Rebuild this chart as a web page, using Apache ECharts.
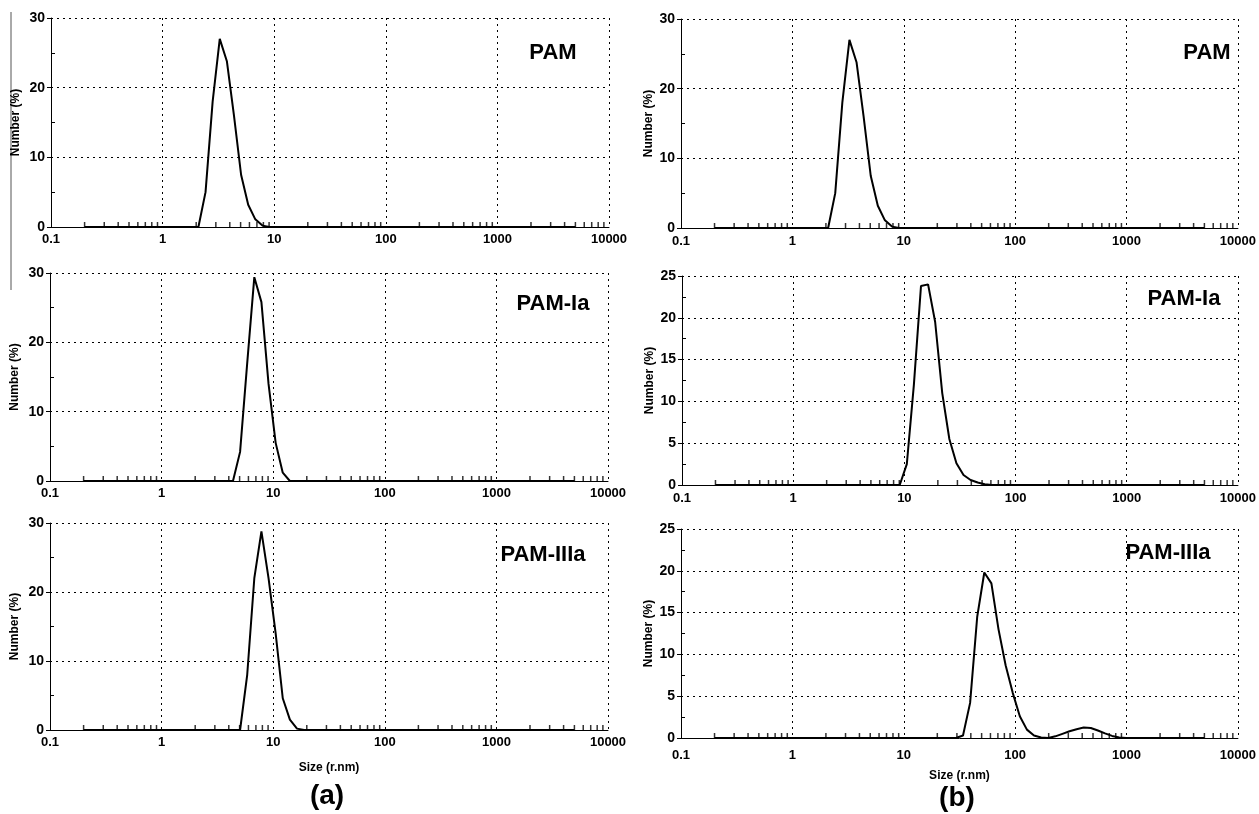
<!DOCTYPE html>
<html><head><meta charset="utf-8">
<script src="https://cdn.jsdelivr.net/npm/echarts@6/dist/echarts.min.js"></script>
<style>html,body{margin:0;padding:0;background:#fff}#c{width:1259px;height:814px}</style>
</head><body><div id="c"></div><script>
// ---- data ----
const sizeRange = [0.2, 5000];
const pamSize = [2.094, 2.425, 2.808, 3.252, 3.766, 4.361, 5.050, 5.849, 6.773, 7.843, 9.083];
const pamNumber = [0, 5, 18, 27, 23.8, 16, 7.5, 3.2, 1.1, 0.2, 0];
const pamIaSizeA = [4.361, 5.050, 5.849, 6.773, 7.843, 9.083, 10.52, 12.18, 14.11];
const pamIaNumberA = [0, 4.2, 17, 29.4, 25.8, 14, 5.5, 1.2, 0];
const pamIIIaSizeA = [5.050, 5.849, 6.773, 7.843, 9.083, 10.52, 12.18, 14.11, 16.34, 18.92];
const pamIIIaNumberA = [0, 8, 22, 28.8, 22, 14, 4.6, 1.5, 0.2, 0];
const pamIaSizeB = [9.083, 10.52, 12.18, 14.11, 16.34, 18.92, 21.91, 25.38, 29.39, 34.03, 39.41, 45.64, 52.85, 61.2];
const pamIaNumberB = [0, 2.5, 12, 23.8, 24, 19.5, 11, 5.5, 2.6, 1.2, 0.6, 0.3, 0.1, 0];
const pamIIIaSizeB = [29.39, 34.03, 39.41, 45.64, 52.85, 61.2, 70.9, 82.1, 95.1, 110.1, 127.5, 147.6, 171.0, 198.1, 229.4, 265.6, 307.6, 356.2, 412.5, 477.7, 553.2, 640.7, 741.9, 859.2, 995];
const pamIIIaNumberB = [0, 0.3, 4.2, 14.5, 19.8, 18.5, 13, 8.7, 5.4, 2.6, 1.0, 0.3, 0.05, 0, 0.2, 0.5, 0.8, 1.05, 1.25, 1.2, 0.9, 0.55, 0.25, 0.05, 0];
const xTickLabels = ['0.1', '1', '10', '100', '1000', '10000'];
const minorMultipliers = [2, 3, 4, 5, 6, 7, 8, 9];
const decades = [0.1, 1, 10, 100, 1000];
const panelLabels = ['PAM', 'PAM-Ia', 'PAM-IIIa', 'PAM', 'PAM-Ia', 'PAM-IIIa'];
const yMax = [30, 30, 30, 30, 25, 25];
const yInterval = [10, 10, 10, 10, 5, 5];
const yTitle = 'Number (%)';
const xTitle = 'Size (r.nm)';
const panelTags = ['(a)', '(b)'];

// ---- layout ----
const FONT = '"Liberation Sans", Arial, sans-serif';
const grids = [
  {left: 51, top: 18, width: 558, height: 209},
  {left: 50, top: 273, width: 558, height: 208},
  {left: 50, top: 523, width: 558, height: 207},
  {left: 681, top: 19, width: 558, height: 209},
  {left: 682, top: 276, width: 557, height: 209},
  {left: 681, top: 529, width: 558, height: 209}
];
const labelPos = [[553, 53], [553, 304], [543, 555], [1207, 53], [1184, 299], [1168, 553]];
const xLabelMargin = [6, 6, 6, 7, 7, 11];
const yNameGap = [29, 29, 29, 26, 26, 26];

function pairs(sizes, nums) {
  const out = [[sizeRange[0], 0]];
  sizes.forEach((s, k) => out.push([s, nums[k]]));
  out.push([sizeRange[1], 0]);
  return out;
}
const curves = [
  pairs(pamSize, pamNumber),
  pairs(pamIaSizeA, pamIaNumberA),
  pairs(pamIIIaSizeA, pamIIIaNumberA),
  pairs(pamSize, pamNumber),
  pairs(pamIaSizeB, pamIaNumberB),
  pairs(pamIIIaSizeB, pamIIIaNumberB)
];
const minorTickData = [];
decades.forEach(d => minorMultipliers.forEach(m => minorTickData.push([+(d * m).toPrecision(6), 0])));

const dotted = {color: '#000', width: 1, type: [2, 4]};
const xAxes = [], yAxes = [], series = [];
grids.forEach((g, i) => {
  const bottom = (i === 2 || i === 5);
  xAxes.push({
    gridIndex: i, type: 'log', logBase: 10, min: 0.1, max: 10000,
    axisLine: {show: true, onZero: false, lineStyle: {color: '#000', width: 1}},
    axisTick: {show: false},
    axisLabel: {
      color: '#000', fontSize: 13, fontWeight: 'bold', fontFamily: FONT, margin: xLabelMargin[i],
      formatter: v => xTickLabels[Math.round(Math.log10(v)) + 1]
    },
    splitLine: {show: true, lineStyle: dotted},
    name: bottom ? xTitle : '', nameLocation: 'middle', nameGap: 32,
    nameTextStyle: {color: '#000', fontSize: 12, fontWeight: 'bold', fontFamily: FONT}
  });
  yAxes.push({
    gridIndex: i, type: 'value', min: 0, max: yMax[i], interval: yInterval[i], position: 'left',
    axisLine: {show: true, lineStyle: {color: '#000', width: 1}},
    axisTick: {show: true, length: 4, lineStyle: {color: '#000'}},
    axisLabel: {color: '#000', fontSize: 14, fontWeight: 'bold', fontFamily: FONT, margin: 6},
    splitLine: {show: true, lineStyle: dotted},
    name: yTitle, nameLocation: 'middle', nameGap: yNameGap[i],
    nameTextStyle: {color: '#000', fontSize: 12, fontWeight: 'bold', fontFamily: FONT}
  });
  yAxes.push({
    gridIndex: i, type: 'value', min: 0, max: yMax[i], interval: yInterval[i], position: 'left',
    axisLine: {show: false}, axisLabel: {show: false},
    axisTick: {show: false, inside: true},
    minorTick: {show: true, splitNumber: 2, length: 4, lineStyle: {color: '#000', width: 1}},
    splitLine: {show: false}
  });
  series.push({
    type: 'line', xAxisIndex: i, yAxisIndex: 2 * i, data: curves[i],
    showSymbol: false, symbol: 'none', lineStyle: {color: '#000', width: 2}, z: 5,
    silent: true, animation: false
  });
  series.push({
    type: 'scatter', xAxisIndex: i, yAxisIndex: 2 * i, data: minorTickData,
    symbol: 'rect', symbolSize: [1.5, 6], symbolOffset: [0, -2],
    itemStyle: {color: '#000'}, silent: true, animation: false, z: 4, clip: false
  });
});

const graphics = [
  {type: 'line', shape: {x1: 11, y1: 12, x2: 11, y2: 290}, style: {stroke: '#555', lineWidth: 1}}
];
panelLabels.forEach((t, i) => graphics.push({
  type: 'text', x: labelPos[i][0], y: labelPos[i][1],
  style: {text: t, fill: '#000', font: 'bold 22px ' + FONT, textAlign: 'center', textVerticalAlign: 'middle'}
}));
graphics.push({type: 'text', x: 327, y: 796,
  style: {text: panelTags[0], fill: '#000', font: 'bold 28px ' + FONT, textAlign: 'center', textVerticalAlign: 'middle'}});
graphics.push({type: 'text', x: 957, y: 798,
  style: {text: panelTags[1], fill: '#000', font: 'bold 28px ' + FONT, textAlign: 'center', textVerticalAlign: 'middle'}});

const chart = echarts.init(document.getElementById('c'), null, {renderer: 'canvas'});
chart.setOption({
  animation: false,
  backgroundColor: '#fff',
  grid: grids,
  xAxis: xAxes,
  yAxis: yAxes,
  series: series,
  graphic: graphics
});
</script></body></html>
